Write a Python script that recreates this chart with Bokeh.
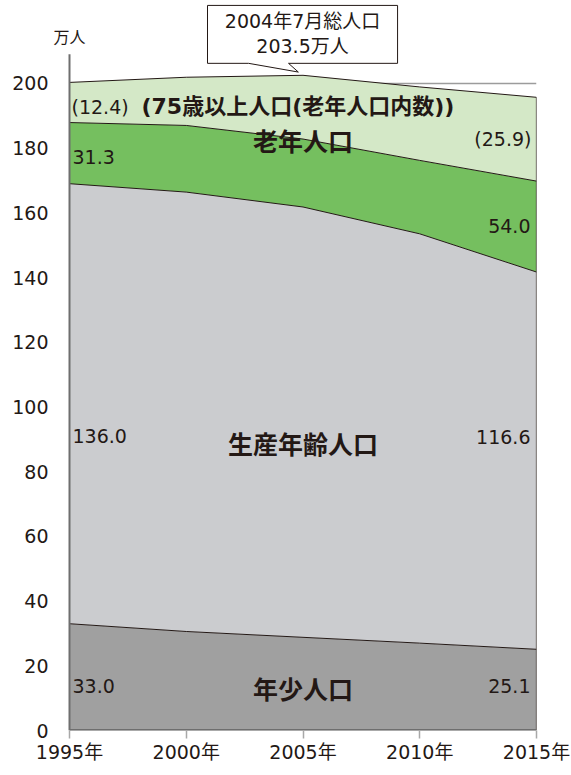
import numpy as np
from bokeh.plotting import figure
from bokeh.models import ColumnDataSource, FixedTicker
from bokeh.core.properties import value
from bokeh.embed import file_html
from bokeh.resources import INLINE

# Population by age group (10,000 persons)
years = [1995, 2000, 2005, 2010, 2015]
youth = [33.0, 30.6, 28.8, 27.0, 25.1]          # 年少人口 (0-14)
working = [136.0, 135.8, 133.0, 126.5, 116.6]   # 生産年齢人口 (15-64)
elderly = [31.3, 35.5, 40.7, 45.4, 54.0]        # 老年人口 (65+)
elderly75 = [12.4, 14.9, 19.7, 22.7, 25.9]      # 75歳以上 (included in 65+)

peak_label = "2004年7月総人口"
peak_value = 203.5
y_ticks = [0, 20, 40, 60, 80, 100, 120, 140, 160, 180, 200]
x_tick_labels = {y: f"{y}年" for y in years}
unit_label = "万人"

MIXED = "DejaVu Sans, Noto Sans CJK JP"
FONT_MIXED = value(MIXED)
FONT_CJK = value("Noto Sans CJK JP")
INK = "#231815"
AXIS_GRAY = "#6e6e6e"

youth_a = np.array(youth)
work_a = np.array(working)
old_a = np.array(elderly)
old75_a = np.array(elderly75)
old6574_a = old_a - old75_a

src = ColumnDataSource(dict(
    year=years,
    youth=youth_a,
    working=work_a,
    old6574=old6574_a,
    old75=old75_a,
))

x0, x1 = years[0], years[-1]

# the frame reaches a little left of 1995 so the unit label fits above the axis
p = figure(width=571, height=775, x_range=(1994.186, 2015), y_range=(0, 225),
           output_backend="svg", toolbar_location=None,
           min_border_left=50, min_border_right=35,
           min_border_top=2, min_border_bottom=45)
p.outline_line_color = None
p.background_fill_color = "white"
p.xgrid.visible = False
p.ygrid.visible = False

# 200 reference line, visible where the total falls below it
p.segment(x0=[x0], y0=[200], x1=[x1], y1=[200], line_color="#9c9c9c", line_width=1.5)

# stacked bands
band_colors = ["#a0a0a0", "#cbcccf", "#75bf5f", "#d4e8c7"]
p.varea_stack(stackers=["youth", "working", "old6574", "old75"], x="year",
              color=band_colors, source=src)

# boundary lines
c1 = youth_a
c2 = c1 + work_a
c3 = c2 + old6574_a
c4 = c3 + old75_a
for top in (c1, c2, c3, c4):
    p.line(years, top, line_color=INK, line_width=1)
p.segment(x0=[x1], y0=[0], x1=[x1], y1=[c4[-1]], line_color=INK, line_width=1.2)

# axis lines drawn from 1995 onward
p.segment(x0=[x0], y0=[0], x1=[x0], y1=[209], line_color=AXIS_GRAY, line_width=2)
p.segment(x0=[x0], y0=[0], x1=[x1], y1=[0], line_color=AXIS_GRAY, line_width=3)

# axes
p.yaxis.ticker = FixedTicker(ticks=y_ticks)
p.yaxis.axis_line_color = None
p.yaxis.major_tick_line_color = None
p.yaxis.minor_tick_line_color = None
p.yaxis.major_tick_out = 0
p.yaxis.major_label_standoff = 2
p.yaxis.major_label_text_font = MIXED
p.yaxis.major_label_text_font_size = "19px"
p.yaxis.major_label_text_color = INK

p.xaxis.ticker = FixedTicker(ticks=years)
p.xaxis.major_label_overrides = x_tick_labels
p.xaxis.axis_line_color = None
p.xaxis.major_tick_line_color = "#a8a8a8"
p.xaxis.major_tick_line_width = 1.5
p.xaxis.major_tick_out = 8
p.xaxis.major_tick_in = 0
p.xaxis.minor_tick_line_color = None
p.xaxis.major_label_standoff = 2
p.xaxis.major_label_text_font = MIXED
p.xaxis.major_label_text_font_size = "19px"
p.xaxis.major_label_text_color = INK

# unit label above the axis
p.text(x=[x0], y=[214.8], text=[unit_label], text_font=FONT_CJK,
       text_font_size="16px", text_color=INK, text_align="center",
       text_baseline="middle")

# value labels at both ends
left_labels = [
    (f"{youth[0]:.1f}", 13.9),
    (f"{working[0]:.1f}", 90.9),
    (f"{elderly[0]:.1f}", 177.2),
]
right_labels = [
    (f"{youth[-1]:.1f}", 13.9),
    (f"{working[-1]:.1f}", 90.7),
    (f"{elderly[-1]:.1f}", 155.9),
]
p.text(x=[x0] * 3, y=[v[1] for v in left_labels], text=[v[0] for v in left_labels],
       text_font=FONT_MIXED, text_font_size="19px", text_color=INK,
       text_align="left", text_baseline="middle", x_offset=3)
p.text(x=[x1] * 3, y=[v[1] for v in right_labels], text=[v[0] for v in right_labels],
       text_font=FONT_MIXED, text_font_size="19px", text_color=INK,
       text_align="right", text_baseline="middle", x_offset=-6)

# 75+ labels
p.text(x=[x0], y=[192.8], text=[f"({elderly75[0]:.1f})"], text_font=FONT_MIXED,
       text_font_size="19px", text_color=INK, text_align="left",
       text_baseline="middle", x_offset=2)
p.text(x=[x1], y=[182.8], text=[f"({elderly75[-1]:.1f})"], text_font=FONT_MIXED,
       text_font_size="19px", text_color=INK, text_align="right",
       text_baseline="middle", x_offset=-5)
p.text(x=[x0], y=[192.8], text=["(75歳以上人口(老年人口内数))"], text_font=FONT_MIXED,
       text_font_size="22px", text_color=INK, text_align="left",
       text_baseline="middle", x_offset=72, text_font_style="bold")

# group names
p.text(x=[2005, 2005, 2005], y=[182.4, 88.8, 13.0],
       text=["老年人口", "生産年齢人口", "年少人口"], text_font=FONT_CJK,
       text_font_size="25px", text_font_style="bold", text_color=INK,
       text_align="center", text_baseline="middle")

# callout for the peak total population
bx0, bx1, by0, by1 = 2000.91, 2009.05, 206.2, 224.1
tip_x = 2004.8
callout_x = [bx0, bx1, bx1, 2004.38, tip_x, 2002.67, bx0]
callout_y = [by1, by1, by0, by0, peak_value, by0, by0]
p.patch(callout_x, callout_y, fill_color="white", line_color=INK, line_width=1)
p.text(x=[2004.98, 2004.98], y=[219.3, 211.7],
       text=[peak_label, f"{peak_value:.1f}万人"], text_font=FONT_MIXED,
       text_font_size="19px", text_color=INK, text_align="center",
       text_baseline="middle")

open("out.html", "w").write(file_html(p, INLINE))
